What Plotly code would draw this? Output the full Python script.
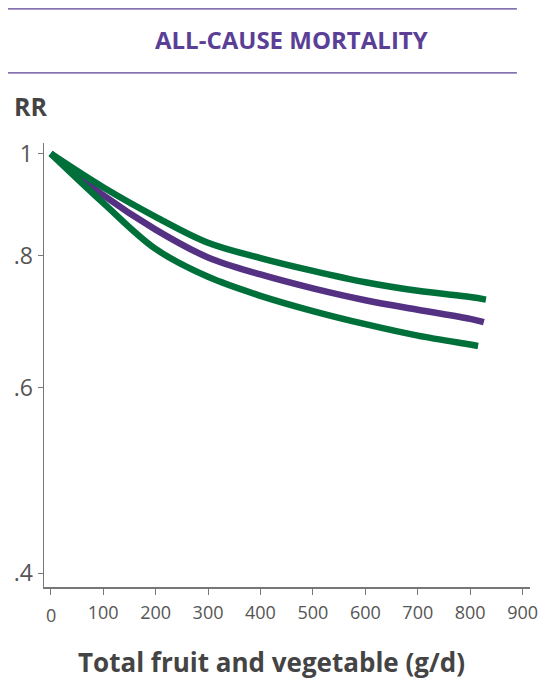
import plotly.graph_objects as go

# Data
x_vals = [0, 100, 200, 300, 400, 500, 600, 700, 800]
rr_central = [1.0, 0.913, 0.847, 0.797, 0.768, 0.745, 0.726, 0.711, 0.697]
x_central_end, rr_central_end = 826, 0.692
rr_upper = [1.0, 0.929, 0.871, 0.823, 0.796, 0.774, 0.755, 0.741, 0.731]
x_upper_end, rr_upper_end = 830, 0.727
rr_lower = [1.0, 0.898, 0.812, 0.764, 0.733, 0.709, 0.689, 0.672, 0.659]
x_lower_end, rr_lower_end = 815, 0.657

y_tickvals = [0.4, 0.6, 0.8, 1.0]
y_ticktext = [".4", ".6", ".8", "1"]
x_tickvals = [0, 100, 200, 300, 400, 500, 600, 700, 800, 900]
x_ticktext = [str(v) for v in x_tickvals]

PURPLE = "#553184"
GREEN = "#00703a"
FONT = "Open Sans"

fig = go.Figure()
fig.add_trace(go.Scatter(x=x_vals + [x_central_end], y=rr_central + [rr_central_end],
                         mode="lines", line=dict(color=PURPLE, width=6.5, shape="spline"),
                         hoverinfo="skip"))
fig.add_trace(go.Scatter(x=x_vals + [x_upper_end], y=rr_upper + [rr_upper_end],
                         mode="lines", line=dict(color=GREEN, width=6.5, shape="spline"),
                         hoverinfo="skip"))
fig.add_trace(go.Scatter(x=x_vals + [x_lower_end], y=rr_lower + [rr_lower_end],
                         mode="lines", line=dict(color=GREEN, width=6.5, shape="spline"),
                         hoverinfo="skip"))

# the "0" label sits slightly lower than the others in the reference
x_ticktext_axis = [""] + x_ticktext[1:]

fig.update_layout(
    width=541, height=680, autosize=False,
    margin=dict(l=44, r=11, t=143, b=93, autoexpand=False),
    paper_bgcolor="white", plot_bgcolor="white",
    showlegend=False,
    font=dict(family=FONT, color="#555555"),
    xaxis=dict(range=[-12.8, 914], tickvals=x_tickvals, ticktext=x_ticktext_axis,
               showgrid=False, zeroline=False, showline=True, linecolor="#777777",
               linewidth=1.5, ticks="outside", ticklen=6, tickcolor="#777777",
               ticklabelstandoff=3, automargin=False,
               tickfont=dict(size=18, color="#555555", family=FONT), fixedrange=True),
    yaxis=dict(type="log", range=[-0.411, 0.010], tickvals=y_tickvals, ticktext=y_ticktext,
               showgrid=False, zeroline=False, showline=True, linecolor="#777777",
               linewidth=1.5, ticks="outside", ticklen=5, tickcolor="#777777",
               automargin=False,
               tickfont=dict(size=23, color="#555555", family=FONT), fixedrange=True),
    shapes=[
        dict(type="line", xref="paper", yref="paper", x0=-0.074, x1=0.973, y0=1.302, y1=1.302,
             line=dict(color="#5b3f96", width=1.2)),
        dict(type="line", xref="paper", yref="paper", x0=-0.074, x1=0.973, y0=1.158, y1=1.158,
             line=dict(color="#5b3f96", width=1.2)),
    ],
    annotations=[
        dict(text="<b>ALL-CAUSE MORTALITY</b>", xref="paper", yref="paper", x=0.509, y=1.234,
             xanchor="center", yanchor="middle", showarrow=False,
             font=dict(size=24, color="#5b3f96", family=FONT)),
        dict(text="<b>RR</b>", xref="paper", yref="paper", x=-0.066, y=1.083,
             xanchor="left", yanchor="middle", showarrow=False,
             font=dict(size=25, color="#444444", family=FONT)),
        dict(text="<b>Total fruit and vegetable (g/d)</b>", xref="paper", yref="paper",
             x=0.469, y=-0.169, xanchor="center", yanchor="middle", showarrow=False,
             font=dict(size=26, color="#444444", family=FONT)),
        dict(text=x_ticktext[0], xref="x", yref="paper", x=x_tickvals[0], y=-0.064,
             xanchor="center", yanchor="middle", showarrow=False,
             font=dict(size=18, color="#555555", family=FONT)),
    ],
)

fig.write_html("out.html",
               config={"displayModeBar": False, "staticPlot": True, "responsive": False},
               post_script=("document.documentElement.style.overflow='hidden';"
                            "document.body.style.margin='0';"
                            "document.body.style.overflow='hidden';"))
